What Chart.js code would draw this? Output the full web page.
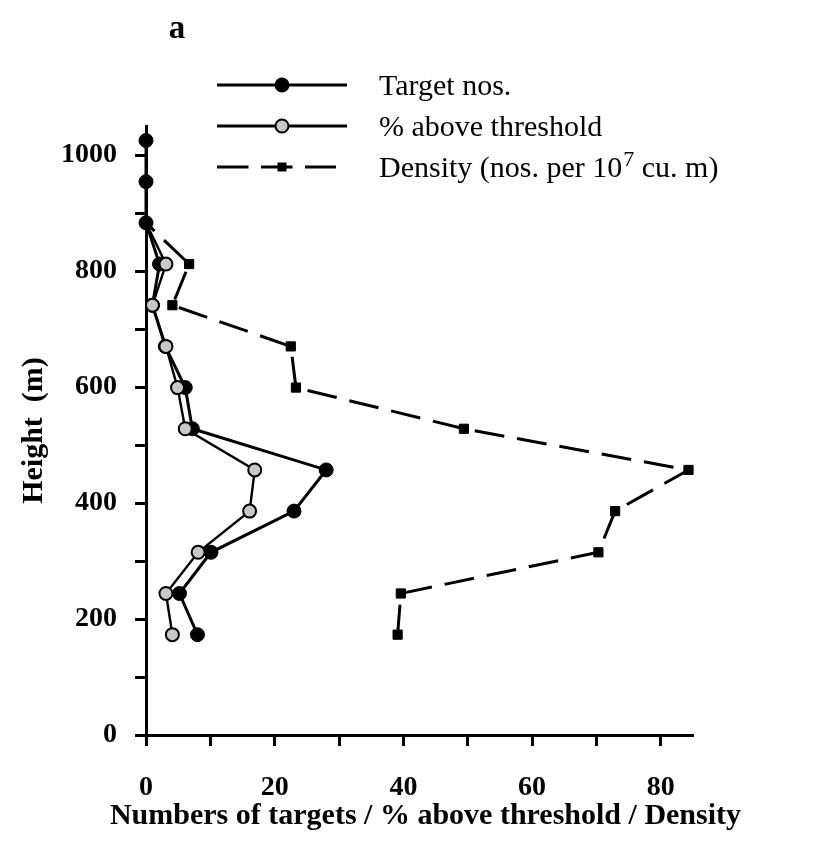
<!DOCTYPE html>
<html>
<head>
<meta charset="utf-8">
<title>Vertical profile of targets</title>
<script src="https://cdn.jsdelivr.net/npm/chart.js@4.4.1/dist/chart.umd.min.js"></script>
<style>
  html, body { margin: 0; padding: 0; background: #fff; }
  #wrap { width: 813px; height: 855px; }
</style>
</head>
<body>
<div id="wrap"><canvas id="profile" width="813" height="855"></canvas></div>
<script>
// Height of each layer (m)
const heights = [173, 244, 315, 386, 457, 528, 599, 670, 741, 812, 883, 954, 1025];
// Number of targets per layer
const targetNos = [8, 5.2, 10.1, 23, 28, 7.2, 6.1, 3, 1, 2.1, 0, 0, 0];
// Percentage of targets above threshold
const pctAbove = [4.1, 3.1, 8.1, 16.1, 16.9, 6.1, 4.9, 3.1, 1, 3.1, 0, null, null];
// Density (nos. per 10^7 cu. m)
const density = [39.1, 39.6, 70.3, 72.9, 84.3, 49.4, 23.3, 22.5, 4.1, 6.7, 0, null, null];

// Axis tick settings
const xTickStep = 10, xLabelEvery = 20, xMax = 85;
const yTickStep = 100, yLabelEvery = 200, yMax = 1050;

const legendItems = ['Target nos.', '% above threshold', 'Density (nos. per 10', '7', ' cu. m)'];
const panelLabel = 'a';
const xTitle = 'Numbers of targets / % above threshold / Density';
const yTitle = 'Height  (m)';

const SERIF = '"Liberation Serif", "Times New Roman", serif';

function toPoints(values) {
  const pts = [];
  values.forEach((v, i) => { if (v !== null) pts.push({ x: v, y: heights[i] }); });
  return pts;
}

// Text, legend and axis titles drawn on top of the chart
const annotations = {
  id: 'annotations',
  afterDraw(chart) {
    const ctx = chart.ctx;
    const area = chart.chartArea;
    ctx.save();
    ctx.fillStyle = '#000';
    ctx.strokeStyle = '#000';

    // panel label
    ctx.font = 'bold 33px ' + SERIF;
    ctx.textAlign = 'center';
    ctx.textBaseline = 'alphabetic';
    ctx.fillText(panelLabel, 177, 38);

    // axis titles, centred on their axes
    ctx.font = 'bold 30px ' + SERIF;
    ctx.textBaseline = 'middle';
    ctx.fillText(xTitle, (area.left + area.right) / 2 + 6, 816);
    ctx.save();
    ctx.translate(34, (area.top + area.bottom) / 2);
    ctx.rotate(-Math.PI / 2);
    ctx.fillText(yTitle, 0, 0);
    ctx.restore();

    // legend
    const x0 = 217, x1 = 347, xm = 282, tx = 379;
    const rows = [85, 126, 167];
    ctx.lineCap = 'butt';

    // Target nos.
    ctx.lineWidth = 3.2;
    ctx.beginPath(); ctx.moveTo(x0, rows[0]); ctx.lineTo(x1, rows[0]); ctx.stroke();
    ctx.beginPath(); ctx.arc(xm, rows[0], 7.5, 0, Math.PI * 2); ctx.fill();

    // % above threshold
    ctx.lineWidth = 2.8;
    ctx.beginPath(); ctx.moveTo(x0, rows[1]); ctx.lineTo(x1, rows[1]); ctx.stroke();
    ctx.beginPath(); ctx.arc(xm, rows[1], 6.5, 0, Math.PI * 2);
    ctx.fillStyle = '#c8c8c8'; ctx.fill();
    ctx.lineWidth = 2; ctx.stroke();
    ctx.fillStyle = '#000';

    // Density
    ctx.lineWidth = 3.2;
    ctx.setLineDash([31.5, 12.5]);
    ctx.beginPath(); ctx.moveTo(x0, rows[2]); ctx.lineTo(336, rows[2]); ctx.stroke();
    ctx.setLineDash([]);
    ctx.fillRect(xm - 4.5, rows[2] - 4.5, 9, 9);

    ctx.font = '30px ' + SERIF;
    ctx.textAlign = 'left';
    ctx.textBaseline = 'alphabetic';
    ctx.fillText(legendItems[0], tx, rows[0] + 10);
    ctx.fillText(legendItems[1], tx, rows[1] + 10);
    let cx = tx;
    ctx.fillText(legendItems[2], cx, rows[2] + 10);
    cx += ctx.measureText(legendItems[2]).width;
    ctx.font = '22px ' + SERIF;
    ctx.fillText(legendItems[3], cx + 1, rows[2] - 1);
    cx += ctx.measureText(legendItems[3]).width + 1;
    ctx.font = '30px ' + SERIF;
    ctx.fillText(legendItems[4], cx, rows[2] + 10);

    ctx.restore();
  }
};

const axisLine = { display: true, width: 3, color: '#000' };
const tickGrid = {
  display: true, drawOnChartArea: false, drawTicks: true,
  tickLength: 11, tickWidth: 3, tickColor: '#000'
};

new Chart(document.getElementById('profile'), {
  type: 'scatter',
  data: {
    datasets: [
      {
        label: '% above threshold',
        data: toPoints(pctAbove),
        showLine: true,
        borderColor: '#000',
        borderWidth: 2.4,
        pointBackgroundColor: '#c8c8c8',
        pointBorderColor: '#000',
        pointBorderWidth: 2,
        // zero values sit beneath the target markers on the axis
        pointRadius: c => (c.raw && c.raw.x === 0 ? 0 : 6.5),
        pointHoverRadius: 6.5,
        clip: false,
        order: 0
      },
      {
        label: 'Target nos.',
        data: toPoints(targetNos),
        showLine: true,
        borderColor: '#000',
        borderWidth: 3,
        pointBackgroundColor: '#000',
        pointBorderColor: '#000',
        pointBorderWidth: 1,
        pointRadius: 7,
        pointHoverRadius: 7,
        clip: false,
        order: 1
      },
      {
        label: 'Density (nos. per 10^7 cu. m)',
        data: toPoints(density),
        showLine: true,
        borderColor: '#000',
        borderWidth: 3,
        borderDash: [30, 13],
        pointStyle: 'rect',
        pointBackgroundColor: '#000',
        pointBorderColor: '#000',
        pointBorderWidth: 1,
        pointRadius: 6.5,
        pointHoverRadius: 6.5,
        clip: false,
        order: 2
      }
    ]
  },
  plugins: [annotations],
  options: {
    responsive: false,
    animation: false,
    events: [],
    layout: { padding: { top: 126, right: 120, left: 0, bottom: 0 } },
    plugins: { legend: { display: false }, tooltip: { enabled: false }, title: { display: false } },
    scales: {
      x: {
        type: 'linear',
        min: 0, max: xMax,
        border: axisLine,
        grid: tickGrid,
        afterFit(s) { s.height = 120; },
        ticks: {
          stepSize: xTickStep,
          includeBounds: false,
          autoSkip: false,
          maxRotation: 0,
          padding: 25,
          color: '#000',
          font: { family: SERIF, size: 28, weight: 'bold' },
          callback: v => (v % xLabelEvery === 0 ? String(v) : '')
        }
      },
      y: {
        type: 'linear',
        min: 0, max: yMax,
        border: axisLine,
        grid: tickGrid,
        afterFit(s) { s.width = 146; },
        ticks: {
          stepSize: yTickStep,
          includeBounds: false,
          autoSkip: false,
          padding: 18,
          color: '#000',
          font: { family: SERIF, size: 28, weight: 'bold' },
          callback: v => (v % yLabelEvery === 0 ? String(v) : '')
        }
      }
    }
  }
});
</script>
</body>
</html>
